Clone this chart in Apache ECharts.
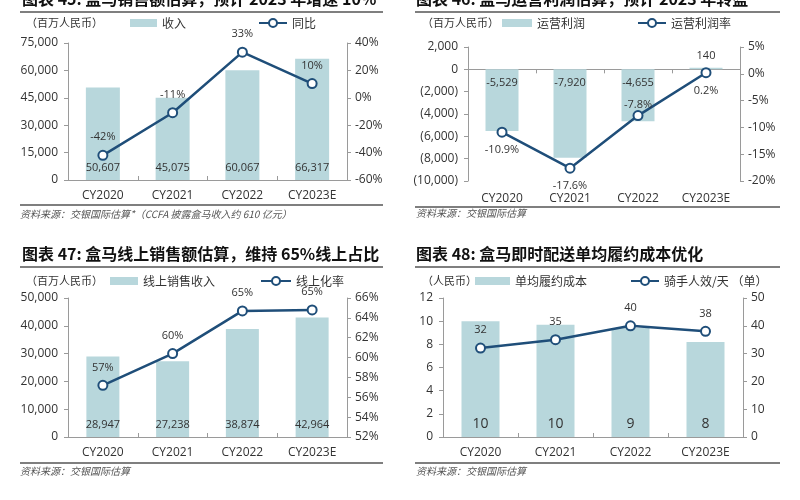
<!DOCTYPE html>
<html>
<head>
<meta charset="utf-8">
<script src="https://cdn.jsdelivr.net/npm/echarts@6/dist/echarts.min.js"></script>
<style>html,body{margin:0;padding:0;background:#fff}#c{width:800px;height:500px}</style>
</head>
<body>
<div id="c"></div>
<script>
const categories = ['CY2020','CY2021','CY2022','CY2023E'];
// Panel 45: revenue & YoY
const revenue = [50607, 45075, 60067, 66317];
const revenueYoY = [-42, -10.9, 33.3, 10.4];
// Panel 46: operating profit & margin
const opProfit = [-5529, -7920, -4655, 140];
const opMargin = [-10.9, -17.6, -7.8, 0.2];
// Panel 47: online sales & online ratio
const onlineSales = [28947, 27238, 38874, 42964];
const onlineRatio = [57.2, 60.4, 64.7, 64.8];
// Panel 48: fulfilment cost & rider orders/day
const fulfilCost = [10.0, 9.7, 9.4, 8.2];
const riderOrders = [32, 35, 40, 38];

const BAR = '#b8d7dc', LINE = '#1f4e79', AX = '#9a9a9a', TXT = '#333';
const FONT = '"Noto Sans CJK SC","Noto Sans",sans-serif';
const fmt = v => Math.abs(v).toLocaleString('en-US');

const chart = echarts.init(document.getElementById('c'));

function xAx(g, extra) {
  return Object.assign({
    type: 'category', gridIndex: g, data: categories,
    axisLine: {lineStyle: {color: AX}},
    axisTick: {show: true, inside: true, length: 4, lineStyle: {color: AX}},
    axisLabel: {color: TXT, fontSize: 12, margin: 10, fontFamily: 'Open Sans'}
  }, extra || {});
}
function yAx(g, pos, min, max, interval, formatter) {
  return {
    type: 'value', gridIndex: g, position: pos, min, max, interval,
    axisLine: {show: true, lineStyle: {color: AX}},
    axisTick: {show: true, length: 4, lineStyle: {color: AX}},
    splitLine: {show: false},
    axisLabel: {color: TXT, fontSize: 12, margin: pos === 'left' ? 10 : 8, formatter, fontFamily: 'Open Sans'}
  };
}
function lineSeries(name, x, y, data, labelOpt) {
  return {
    name, type: 'line', xAxisIndex: x, yAxisIndex: y, data,
    symbol: 'emptyCircle', symbolSize: 9,
    lineStyle: {color: LINE, width: 2.5},
    itemStyle: {color: LINE, borderWidth: 1.5},
    label: Object.assign({show: true, position: 'top', distance: 7, color: TXT, fontSize: 11, fontFamily: 'Open Sans'}, labelOpt),
    z: 5
  };
}
function barSeries(name, x, y, data, width, labelOpt) {
  return {
    name, type: 'bar', xAxisIndex: x, yAxisIndex: y, data, barWidth: width,
    itemStyle: {color: BAR},
    label: Object.assign({show: true, position: 'insideBottom', distance: 7, color: TXT, fontSize: 11, fontFamily: 'Open Sans'}, labelOpt)
  };
}
function legend(name, left, top, icon, w, h) {
  return {data: [{name, icon}], left, top: top - 7, padding: 0, itemWidth: w, itemHeight: h,
    itemGap: 6, textStyle: {color: TXT, fontSize: 12, fontFamily: FONT}, selectedMode: false};
}
function text(x, y, t, style) {
  return {type: 'text', left: x, top: y, style: Object.assign({text: t, fill: TXT, font: '12px ' + FONT}, style || {})};
}
function hline(x1, x2, y) {
  return {type: 'line', shape: {x1, y1: y, x2, y2: y}, style: {stroke: '#555', lineWidth: 1.5}};
}

const option = {
  animation: false,
  grid: [
    {left: 68, right: 453, top: 43, bottom: 320},
    {left: 468, right: 60, top: 47, bottom: 319},
    {left: 68, right: 453, top: 298, bottom: 63},
    {left: 443, right: 57, top: 298, bottom: 63}
  ],
  xAxis: [
    xAx(0),
    xAx(1, {axisLine: {show: false, onZero: false}, axisTick: {show: false}, axisLabel: {color: TXT, fontSize: 12, margin: 12, fontFamily: 'Open Sans'}}),
    xAx(2),
    xAx(3),
    xAx(1, {axisLabel: {show: false}, axisLine: {onZero: true, lineStyle: {color: AX}}})
  ],
  yAxis: [
    yAx(0, 'left', 0, 75000, 15000, v => v.toLocaleString('en-US')),
    yAx(0, 'right', -60, 40, 20, v => v + '%'),
    yAx(1, 'left', -10000, 2000, 2000, v => v < 0 ? '(' + fmt(v) + ')' : fmt(v)),
    yAx(1, 'right', -20, 5, 5, v => v + '%'),
    yAx(2, 'left', 0, 50000, 10000, v => v.toLocaleString('en-US')),
    yAx(2, 'right', 52, 66, 2, v => v + '%'),
    yAx(3, 'left', 0, 12, 2, v => v),
    yAx(3, 'right', 0, 50, 10, v => v)
  ],
  legend: [
    legend('收入', 130, 24, 'rect', 27, 8),
    legend('同比', 258, 24, null, 28, 10),
    legend('运营利润', 502, 24, 'rect', 30, 8),
    legend('运营利润率', 637, 24, null, 28, 10),
    legend('线上销售收入', 110, 282, 'rect', 28, 8),
    legend('线上化率', 260, 282, null, 30, 10),
    legend('单均履约成本', 475, 282, 'rect', 35, 8),
    legend('骑手人效/天 （单）', 630, 282, null, 28, 10)
  ],
  series: [
    barSeries('收入', 0, 0, revenue, 34, {formatter: p => fmt(p.value)}),
    lineSeries('同比', 0, 1, revenueYoY, {formatter: p => Math.round(p.value) + '%'}),
    Object.assign(barSeries('运营利润', 1, 2, opProfit.map((v, i) => i === 3 ? {value: v, label: {position: 'top', distance: 6}} : v), 33,
      {position: 'insideTop', distance: 8, formatter: p => (p.value < 0 ? '-' : '') + fmt(p.value)})),
    lineSeries('运营利润率', 1, 3, opMargin.map((v, i) => i === 2 ? {value: v, label: {position: 'top', distance: 0}} : v),
      {position: 'bottom', distance: 7, formatter: p => p.value.toFixed(1) + '%'}),
    barSeries('线上销售收入', 2, 4, onlineSales, 33, {formatter: p => fmt(p.value)}),
    lineSeries('线上化率', 2, 5, onlineRatio, {formatter: p => Math.round(p.value) + '%'}),
    barSeries('单均履约成本', 3, 6, fulfilCost, 38, {fontSize: 14, distance: 6, formatter: p => Math.round(p.value)}),
    lineSeries('骑手人效/天 （单）', 3, 7, riderOrders, {formatter: p => p.value})
  ],
  graphic: [
    text(22, -9, '图表 45: 盒马销售额估算，预计 2023 年增速 10%', {font: 'bold 16px ' + FONT, fill: '#111'}),
    text(416, -9, '图表 46: 盒马运营利润估算，预计 2023 年转盈', {font: 'bold 16px ' + FONT, fill: '#111'}),
    text(22, 246, '图表 47: 盒马线上销售额估算，维持 65%线上占比', {font: 'bold 16px ' + FONT, fill: '#111'}),
    text(416, 246, '图表 48: 盒马即时配送单均履约成本优化', {font: 'bold 16px ' + FONT, fill: '#111'}),
    hline(20, 383, 12), hline(20, 383, 205),
    hline(415, 780, 12), hline(415, 780, 207),
    hline(20, 383, 267), hline(20, 383, 463),
    hline(415, 780, 267), hline(415, 780, 463),
    text(26, 17, '（百万人民币）', {font: '11px ' + FONT}),
    text(422, 17, '（百万人民币）', {font: '11px ' + FONT}),
    text(26, 275, '（百万人民币）', {font: '11px ' + FONT}),
    text(422, 275, '（人民币）', {font: '11px ' + FONT}),
    text(20, 209, '资料来源：交银国际估算*（CCFA 披露盒马收入约 610 亿元）', {font: 'italic 10px ' + FONT, fill: '#555'}),
    text(416, 208, '资料来源：交银国际估算', {font: 'italic 10px ' + FONT, fill: '#555'}),
    text(20, 466, '资料来源：交银国际估算', {font: 'italic 10px ' + FONT, fill: '#555'}),
    text(416, 466, '资料来源：交银国际估算', {font: 'italic 10px ' + FONT, fill: '#555'})
  ]
};
chart.setOption(option);
</script>
</body>
</html>
